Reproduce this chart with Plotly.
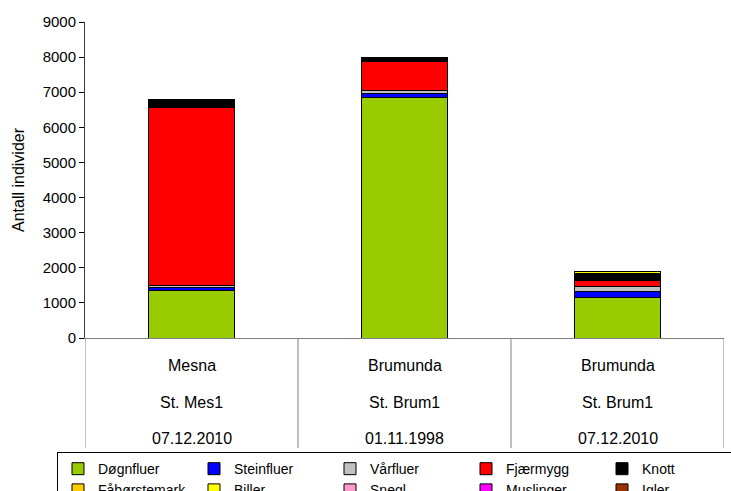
import plotly.graph_objects as go

# Sampling sites (three-level category labels)
sites = ["Mesna", "Brumunda", "Brumunda"]
stations = ["St. Mes1", "St. Brum1", "St. Brum1"]
dates = ["07.12.2010", "01.11.1998", "07.12.2010"]

# Number of individuals per taxon group, per site
groups = ["Døgnfluer", "Steinfluer", "Vårfluer", "Fjærmygg", "Knott",
          "Fåbørstemark", "Biller", "Snegl", "Muslinger", "Igler"]
doegnfluer = [1340, 6840, 1160]
steinfluer = [95, 135, 160]
vaarfluer = [50, 75, 160]
fjaermygg = [5070, 815, 170]
knott = [230, 135, 200]
faaborstemark = [0, 0, 0]
biller = [0, 0, 40]
snegl = [0, 0, 0]
muslinger = [0, 0, 0]
igler = [0, 0, 0]

values = [doegnfluer, steinfluer, vaarfluer, fjaermygg, knott,
          faaborstemark, biller, snegl, muslinger, igler]
colors = ["#99CC00", "#0000FF", "#C0C0C0", "#FF0000", "#000000",
          "#FFCC00", "#FFFF00", "#FF99CC", "#FF00FF", "#993300"]

yticks = [0, 1000, 2000, 3000, 4000, 5000, 6000, 7000, 8000, 9000]

FONT = "Arial, Liberation Sans, sans-serif"
xpos = list(range(len(sites)))

fig = go.Figure()
for name, vals, col in zip(groups, values, colors):
    fig.add_trace(go.Bar(
        x=xpos, y=vals, name=name,
        marker=dict(color=col, line=dict(color="#000000", width=1)),
        width=0.4,
    ))

# Category labels below the axis, one row per level
for i in xpos:
    for txt, shift in ((sites[i], -27), (stations[i], -64), (dates[i], -100)):
        fig.add_annotation(x=i, xref="x", y=0, yref="paper", yshift=shift,
                           text=txt, showarrow=False,
                           font=dict(family=FONT, size=16, color="#000000"),
                           xanchor="center", yanchor="middle")

# Divider lines between categories
for b in [-0.5, 0.5, 1.5, 2.5]:
    fig.add_shape(type="line", xref="x", yref="paper", x0=b, x1=b,
                  ysizemode="pixel", yanchor=0, y0=0, y1=-110,
                  line=dict(color="#808080", width=1))

fig.update_layout(
    width=731, height=491,
    margin=dict(l=85, r=7, t=22, b=153, autoexpand=False),
    plot_bgcolor="white", paper_bgcolor="white",
    barmode="stack",
    font=dict(family=FONT, size=15, color="#000000"),
    xaxis=dict(range=[-0.5, 2.5], showticklabels=False, ticks="",
               showgrid=False, zeroline=False, showline=True,
               linecolor="#808080", linewidth=1),
    yaxis=dict(range=[0, 9000], tickvals=yticks, ticks="outside",
               ticklen=5, tickcolor="#000000", showgrid=False,
               zeroline=False, showline=True, linecolor="#404040",
               linewidth=1, tickfont=dict(size=15),
               title=dict(text="Antall individer", font=dict(size=16),
                          standoff=14)),
    legend=dict(orientation="h", xref="paper", yref="paper",
                x=-0.0438, xanchor="left", y=-0.361, yanchor="top",
                bordercolor="#000000", borderwidth=1,
                entrywidthmode="pixels", entrywidth=91,
                itemwidth=30, traceorder="normal",
                font=dict(size=14, family=FONT)),
    showlegend=True,
)

fig.write_html("out.html")
